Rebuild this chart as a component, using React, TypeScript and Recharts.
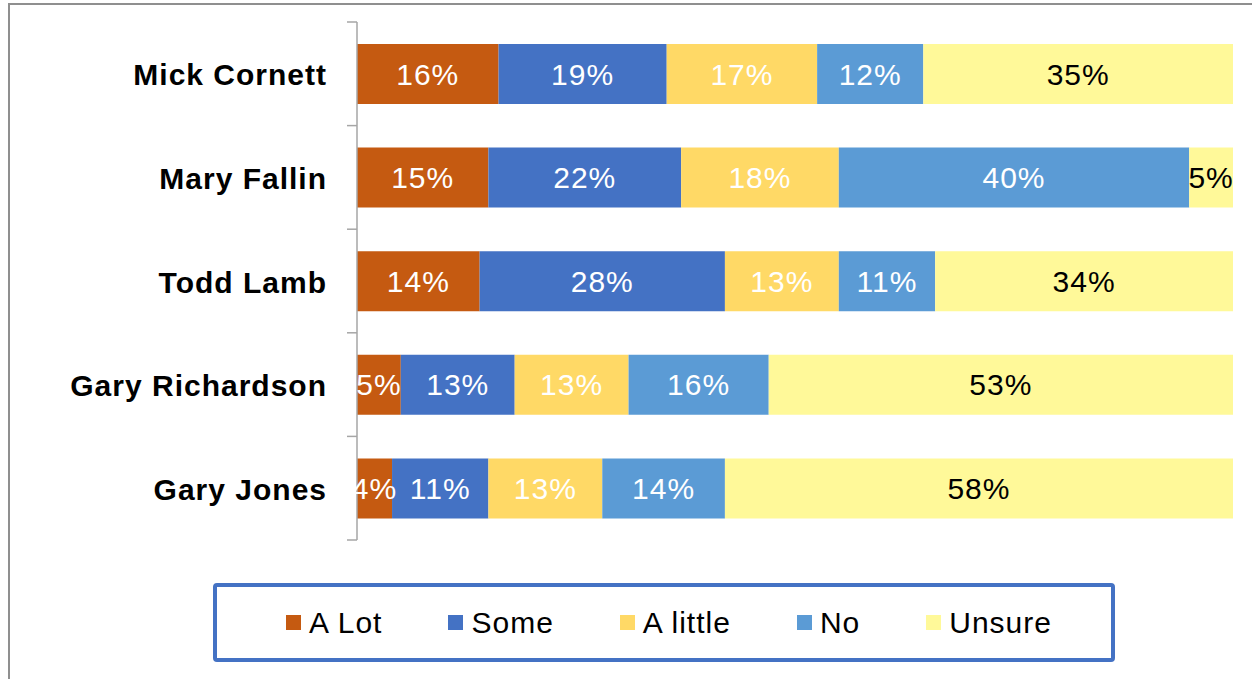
import React from "react";
import { BarChart, Bar, XAxis, YAxis, LabelList } from "recharts";

const candidates = ["Mick Cornett", "Mary Fallin", "Todd Lamb", "Gary Richardson", "Gary Jones"];
const aLot = [16, 15, 14, 5, 4];
const some = [19, 22, 28, 13, 11];
const aLittle = [17, 18, 13, 13, 13];
const no = [12, 40, 11, 16, 14];
const unsure = [35, 5, 34, 53, 58];

const seriesNames = ["A Lot", "Some", "A little", "No", "Unsure"];
const seriesKeys = ["aLot", "some", "aLittle", "no", "unsure"];
const seriesColors = ["#C55A11", "#4472C4", "#FFD966", "#5B9BD5", "#FFF999"];
const labelColors = ["#ffffff", "#ffffff", "#ffffff", "#ffffff", "#000000"];

const data = candidates.map((name, i) => ({
  name,
  aLot: aLot[i],
  some: some[i],
  aLittle: aLittle[i],
  no: no[i],
  unsure: unsure[i],
}));

const FONT = "'Liberation Sans', Arial, sans-serif";
const AXIS_GRAY = "#a6a6a6";

// category label plus Excel-style tick marks sitting between the bands
const CategoryTick = (props: any) => {
  const { x, y, payload, index } = props;
  const half = payload && payload.offset ? payload.offset : 51.8;
  const axisX = x + 29;
  const isLast = index === candidates.length - 1;
  return (
    <g>
      <line x1={axisX - 10} x2={axisX} y1={y - half} y2={y - half} stroke={AXIS_GRAY} strokeWidth={1.5} />
      {isLast && (
        <line x1={axisX - 10} x2={axisX} y1={y + half} y2={y + half} stroke={AXIS_GRAY} strokeWidth={1.5} />
      )}
      <text
        x={x - 1}
        y={y + 1}
        textAnchor="end"
        dominantBaseline="central"
        fontFamily={FONT}
        fontWeight="bold"
        fontSize={30}
        letterSpacing={1}
        fill="#000"
      >
        {payload.value}
      </text>
    </g>
  );
};

export default function App() {
  return (
    <div style={{ position: "absolute", left: 0, top: 0, width: 1252, height: 679, background: "#fff", overflow: "hidden" }}>
      <div
        style={{
          position: "absolute",
          left: 8,
          top: 3,
          width: 1300,
          height: 700,
          borderTop: "2px solid #8f8f8f",
          borderLeft: "2px solid #8f8f8f",
        }}
      />
      <div style={{ position: "absolute", left: 0, top: 0 }}>
        <BarChart
          width={1252}
          height={560}
          data={data}
          layout="vertical"
          stackOffset="expand"
          margin={{ top: 22, right: 19, bottom: 20, left: 0 }}
        >
          <XAxis type="number" hide domain={[0, 1]} />
          <YAxis
            type="category"
            dataKey="name"
            width={357}
            axisLine={{ stroke: AXIS_GRAY, strokeWidth: 1.5 }}
            tickLine={false}
            tickSize={10}
            tickMargin={19}
            tick={<CategoryTick />}
            interval={0}
          />
          {seriesKeys.map((key, i) => (
            <Bar
              key={key}
              dataKey={key}
              name={seriesNames[i]}
              stackId="a"
              fill={seriesColors[i]}
              barSize={60}
              isAnimationActive={false}
            >
              <LabelList
                dataKey={key}
                position="center"
                formatter={(v: any) => `${v}%`}
                fill={labelColors[i]}
                fontSize={30}
                letterSpacing={1}
                fontFamily={FONT}
              />
            </Bar>
          ))}
        </BarChart>
      </div>
      <div
        style={{
          position: "absolute",
          left: 213,
          top: 583,
          width: 902,
          height: 79,
          boxSizing: "border-box",
          border: "4px solid #4472C4",
          borderRadius: 4,
          display: "flex",
          alignItems: "center",
          justifyContent: "center",
          gap: 66,
          paddingLeft: 10,
          fontFamily: FONT,
          fontSize: 30,
          letterSpacing: 1,
          color: "#000",
        }}
      >
        {seriesNames.map((n, i) => (
          <div key={n} style={{ display: "flex", alignItems: "center" }}>
            <span style={{ width: 15, height: 15, background: seriesColors[i], marginRight: 8, display: "inline-block" }} />
            <span>{n}</span>
          </div>
        ))}
      </div>
    </div>
  );
}
